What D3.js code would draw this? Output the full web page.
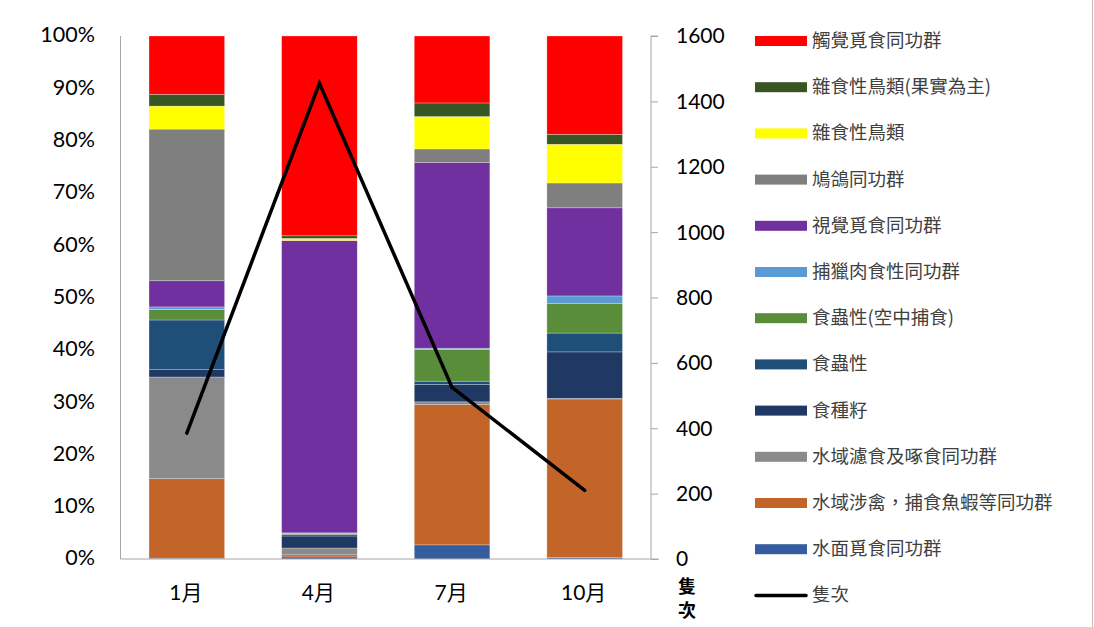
<!DOCTYPE html>
<html>
<head>
<meta charset="utf-8">
<script src="https://cdn.jsdelivr.net/npm/d3@7"></script>
<style>
  html, body { margin: 0; padding: 0; background: #fff; }
  svg { display: block; }
</style>
</head>
<body>
<svg id="chart" width="1094" height="627"></svg>
<script>
// Months surveyed
const months = ["1月", "4月", "7月", "10月"];

// Guild names, bottom of the stack first
const guilds = [
  "水面覓食同功群",
  "水域涉禽，捕食魚蝦等同功群",
  "水域濾食及啄食同功群",
  "食種籽",
  "食蟲性",
  "食蟲性(空中捕食)",
  "捕獵肉食性同功群",
  "視覺覓食同功群",
  "鳩鴿同功群",
  "雜食性鳥類",
  "雜食性鳥類(果實為主)",
  "觸覺覓食同功群"
];

// Share of each guild (%) per month, same order as guilds
const share1 = [0.15, 15.2, 19.45, 1.4, 9.5, 2.0, 0.5, 5.0, 29.0, 4.4, 2.25, 11.15];
const share4 = [0.4, 0.4, 1.3, 2.3, 0.3, 0.2, 0.1, 55.9, 0.0, 0.4, 0.5, 38.2];
const share7 = [2.7, 26.8, 0.55, 3.3, 0.65, 6.1, 0.2, 35.5, 2.6, 6.2, 2.6, 12.8];
const share10 = [0.27, 30.33, 0.1, 8.9, 3.6, 5.7, 1.4, 16.85, 4.75, 7.4, 1.9, 18.8];

// Total individuals counted per month
const counts = [385, 1455, 525, 210];

// Axis tick values
const pctTicks = [0, 10, 20, 30, 40, 50, 60, 70, 80, 90, 100];
const countTicks = [0, 200, 400, 600, 800, 1000, 1200, 1400, 1600];

const colors = [
  "#355C9E", "#C36529", "#8A8A8A", "#203864", "#1F4E79", "#598D3A",
  "#5B9BD5", "#7030A0", "#7F7F7F", "#FFFF00", "#375623", "#FF0000"
];

const shares = [share1, share4, share7, share10];
const rows = months.map((m, i) => {
  const r = { month: m };
  guilds.forEach((g, j) => { r[g] = shares[i][j]; });
  return r;
});

const svg = d3.select("#chart");
const plotLeft = 120.5, plotRight = 651, plotTop = 36, plotBottom = 559;

const x = d3.scaleBand().domain(months).range([plotLeft, plotRight]).paddingInner(0.43).paddingOuter(0.215);
const yPct = d3.scaleLinear().domain([0, 100]).range([plotBottom, plotTop]);
const yCnt = d3.scaleLinear().domain([0, 1600]).range([plotBottom, plotTop]);
const color = d3.scaleOrdinal().domain(guilds).range(colors);

const series = d3.stack().keys(guilds)(rows);

// Stacked bars
svg.append("g").selectAll("g.layer")
  .data(series)
  .join("g")
  .attr("class", "layer")
  .attr("fill", d => color(d.key))
  .selectAll("rect")
  .data(d => d)
  .join("rect")
  .attr("x", d => x(d.data.month))
  .attr("width", x.bandwidth())
  .attr("y", d => yPct(d[1]))
  .attr("height", d => Math.max(0, yPct(d[0]) - yPct(d[1])))
  .attr("stroke", "rgba(255,255,255,0.45)")
  .attr("stroke-width", 0.6);

// Left axis: line and labels
const axisColor = "#A6A6A6";
const tickFont = "Lato, 'Noto Sans', sans-serif";
svg.append("line").attr("x1", plotLeft).attr("x2", plotLeft).attr("y1", plotTop).attr("y2", plotBottom)
  .attr("stroke", axisColor).attr("stroke-width", 1);
svg.append("g").selectAll("text").data(pctTicks).join("text")
  .attr("x", 95).attr("y", d => yPct(d) + 1)
  .attr("text-anchor", "end").attr("dominant-baseline", "middle")
  .attr("font-family", tickFont).attr("font-size", 21.5).attr("fill", "#000")
  .text(d => d + "%");

// Right axis with outward ticks
const rightAxis = d3.axisRight(yCnt).tickValues(countTicks).tickSize(7).tickPadding(18).tickFormat(d3.format("d"));
const ra = svg.append("g").attr("transform", `translate(${plotRight},0)`).call(rightAxis);
ra.select(".domain").attr("stroke", axisColor).attr("d", `M7,${plotTop}H0V${plotBottom}`);
ra.selectAll(".tick line").attr("stroke", axisColor);
ra.selectAll(".tick text")
  .attr("font-family", tickFont).attr("font-size", 21).attr("fill", "#000")
  .attr("dy", "0.33em");

// Baseline
svg.append("line").attr("x1", plotLeft).attr("x2", plotRight + 8).attr("y1", plotBottom).attr("y2", plotBottom)
  .attr("stroke", axisColor).attr("stroke-width", 1);

// Month labels
svg.append("g").selectAll("text").data(months).join("text")
  .attr("x", d => x(d) + x.bandwidth() / 2 - 1).attr("y", 595)
  .attr("text-anchor", "middle").attr("dominant-baseline", "middle")
  .attr("font-family", "Lato, 'Noto Sans CJK TC', sans-serif").attr("font-size", 21).attr("fill", "#000")
  .text(d => d);

// Right axis title, stacked vertically
svg.append("g").selectAll("text").data(["隻", "次"]).join("text")
  .attr("x", 687).attr("y", (d, i) => 588 + i * 24)
  .attr("text-anchor", "middle").attr("dominant-baseline", "middle")
  .attr("font-family", "'Noto Sans CJK TC', sans-serif").attr("font-size", 18).attr("font-weight", 700).attr("fill", "#000")
  .text(d => d);

// Count line on the secondary axis
const line = d3.line()
  .x((d, i) => x(months[i]) + x.bandwidth() / 2)
  .y(d => yCnt(d));
svg.append("path").datum(counts)
  .attr("d", line)
  .attr("fill", "none").attr("stroke", "#000").attr("stroke-width", 3.5)
  .attr("stroke-linejoin", "miter").attr("stroke-linecap", "round");

// Legend: top guild first, then the line
const legendItems = guilds.slice().reverse();
const lg = svg.append("g");
const rowY = i => 41 + i * 46.2;
legendItems.forEach((name, i) => {
  lg.append("rect").attr("x", 755).attr("y", rowY(i) - 5).attr("width", 52).attr("height", 10)
    .attr("fill", color(name));
  lg.append("text").attr("x", 812).attr("y", rowY(i) + 1)
    .attr("dominant-baseline", "middle")
    .attr("font-family", "'Noto Sans CJK TC', sans-serif").attr("font-size", 18.5).attr("fill", "#404040")
    .text(name);
});
const li = legendItems.length;
lg.append("line").attr("x1", 756).attr("x2", 806).attr("y1", rowY(li)).attr("y2", rowY(li))
  .attr("stroke", "#000").attr("stroke-width", 3.5).attr("stroke-linecap", "round");
lg.append("text").attr("x", 812).attr("y", rowY(li) + 1)
  .attr("dominant-baseline", "middle")
  .attr("font-family", "'Noto Sans CJK TC', sans-serif").attr("font-size", 18.5).attr("fill", "#404040")
  .text("隻次");

// Chart frame edge
svg.append("line").attr("x1", 1092.5).attr("x2", 1092.5).attr("y1", 0).attr("y2", 627)
  .attr("stroke", "#BFBFBF").attr("stroke-width", 1);
</script>
</body>
</html>
